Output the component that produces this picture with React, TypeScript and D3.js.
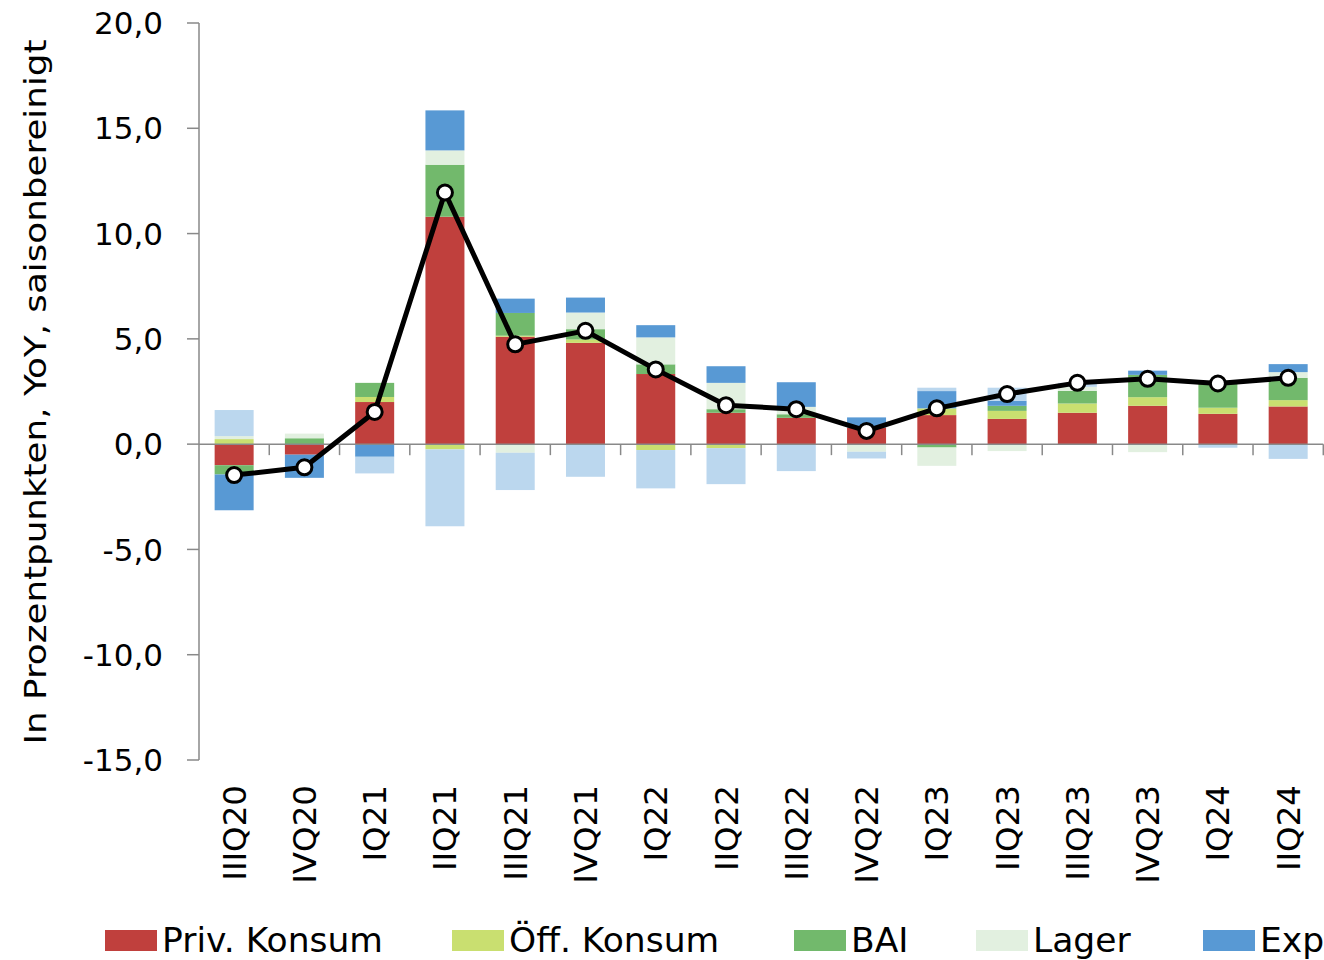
import React from "react";
import * as d3 from "d3";

const categories = ["IIIQ20","IVQ20","IQ21","IIQ21","IIIQ21","IVQ21","IQ22","IIQ22","IIIQ22","IVQ22","IQ23","IIQ23","IIIQ23","IVQ23","IQ24","IIQ24"];
const privKonsum = [-1.0, -0.5, 2.0, 10.8, 5.1, 4.81, 3.33, 1.49, 1.25, 0.79, 1.38, 1.2, 1.49, 1.82, 1.44, 1.79];
const oeffKonsum = [0.24, 0, 0.24, -0.25, 0.05, 0.16, -0.28, -0.19, 0, 0, 0.32, 0.38, 0.44, 0.41, 0.29, 0.3];
const bai = [-0.44, 0.28, 0.67, 2.47, 1.08, 0.49, 0.46, 0.17, 0.17, 0, -0.16, 0.24, 0.6, 1.06, 1.16, 1.06];
const lager = [0.14, 0.22, 0, 0.68, -0.41, 0.79, 1.28, 1.25, 0.35, -0.36, -0.87, -0.33, 0.19, -0.38, 0.15, 0.27];
const exp = [-1.7, -1.1, -0.6, 1.9, 0.68, 0.71, 0.58, 0.79, 1.17, 0.48, 0.82, 0.24, 0, 0.2, 0, 0.38];
const imp = [1.24, 0, -0.79, -3.65, -1.77, -1.55, -1.82, -1.71, -1.28, -0.32, 0.16, 0.62, 0.19, 0, -0.17, -0.7];
const bip = [-1.47, -1.1, 1.53, 11.95, 4.74, 5.38, 3.55, 1.85, 1.66, 0.63, 1.7, 2.38, 2.91, 3.1, 2.88, 3.15];
const yTicks = [-15, -10, -5, 0, 5, 10, 15, 20];

const seriesNames = ["Priv. Konsum", "Öff. Konsum", "BAI", "Lager", "Exp", "Imp"];
const seriesValues = [privKonsum, oeffKonsum, bai, lager, exp, imp];
const colors = ["#C0403D", "#C9DF70", "#72B96C", "#E2F0E0", "#5899D4", "#BBD7EE"];
const legendNames = ["Priv. Konsum", "Öff. Konsum", "BAI", "Lager", "Exp"];

const FONT = "'DejaVu Sans', sans-serif";

export default function App() {
  const W = 1324, H = 960;
  const x0 = 199, x1 = 1323.3;
  const x = d3.scaleBand<string>().domain(categories).range([x0, x1]).paddingInner(0.445).paddingOuter(0.2225);
  const y = d3.scaleLinear().domain([-15, 20]).range([760, 23]);
  const step = (x1 - x0) / categories.length;

  const rows = categories.map((c, i) => {
    const r: any = { cat: c };
    seriesNames.forEach((s, j) => (r[s] = seriesValues[j][i]));
    return r;
  });
  const stacked = d3.stack<any>().keys(seriesNames).offset(d3.stackOffsetDiverging).order(d3.stackOrderNone)(rows);

  const line = d3.line<number>().x((_, i) => (x(categories[i]) as number) + x.bandwidth() / 2).y((d) => y(d));

  const axisColor = "#898989";
  const legendX = [105, 452, 794, 976, 1203];

  return (
    <svg width={W} height={H} style={{ position: "absolute", left: 0, top: 0 }} fontFamily={FONT}>
      <rect width={W} height={H} fill="#fff" />
      {stacked.map((s, j) => (
        <g key={s.key} fill={colors[j]}>
          {s.map((d, i) => {
            const h = Math.abs(y(d[0]) - y(d[1]));
            if (h < 0.01) return null;
            return (
              <rect key={i} x={x(categories[i])} width={x.bandwidth()} y={Math.min(y(d[0]), y(d[1]))} height={h} />
            );
          })}
        </g>
      ))}
      {/* y axis */}
      <line x1={x0} x2={x0} y1={y(20)} y2={y(-15)} stroke={axisColor} strokeWidth={1.5} />
      {yTicks.map((t) => (
        <g key={t}>
          <line x1={x0 - 12} x2={x0} y1={y(t)} y2={y(t)} stroke={axisColor} strokeWidth={1.5} />
          <text x={163} y={y(t)} dy="0.36em" textAnchor="end" fontSize={31} fill="#000">
            {t.toFixed(1).replace(".", ",")}
          </text>
        </g>
      ))}
      {/* x axis */}
      <line x1={x0} x2={x1} y1={y(0)} y2={y(0)} stroke={axisColor} strokeWidth={1.5} />
      {categories.map((c, i) => (
        <line key={c} x1={x0 + step * (i + 1)} x2={x0 + step * (i + 1)} y1={y(0)} y2={y(0) + 11} stroke={axisColor} strokeWidth={1.5} />
      ))}
      {/* line */}
      <path d={line(bip) || ""} fill="none" stroke="#000" strokeWidth={5} strokeLinejoin="round" />
      {bip.map((v, i) => (
        <circle key={i} cx={(x(categories[i]) as number) + x.bandwidth() / 2} cy={y(v)} r={7.5} fill="#fff" stroke="#000" strokeWidth={3} />
      ))}
      {/* category labels */}
      {categories.map((c) => {
        const cx = (x(c) as number) + x.bandwidth() / 2 + 11.5;
        return (
          <text key={c} transform={`translate(${cx},785) rotate(-90)`} textAnchor="end" fontSize={32.5} fill="#000">
            {c}
          </text>
        );
      })}
      {/* y title */}
      <text transform={`translate(46,392) rotate(-90)`} textAnchor="middle" fontSize={31} textLength={705} lengthAdjust="spacingAndGlyphs" fill="#000">
        In Prozentpunkten, YoY, saisonbereinigt
      </text>
      {/* legend */}
      {legendNames.map((s, j) => (
        <g key={s}>
          <rect x={legendX[j]} y={930} width={52} height={21} fill={colors[j]} />
          <text x={legendX[j] + 57} y={952} fontSize={34.5} fill="#000">
            {s}
          </text>
        </g>
      ))}
    </svg>
  );
}
